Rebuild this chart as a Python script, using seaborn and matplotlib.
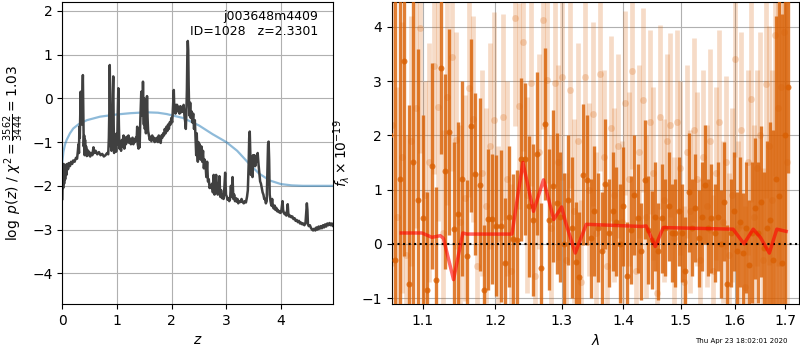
import matplotlib
matplotlib.use("Agg")
import matplotlib.pyplot as plt
from matplotlib.ticker import NullLocator, FixedLocator, FixedFormatter
import seaborn as sns

# ---- redshift probability ----
z_grid = [0.000, 0.008, 0.016, 0.024, 0.033, 0.042, 0.052, 0.062, 0.075, 0.090,
          0.105, 0.120, 0.140, 0.160, 0.180, 0.200, 0.225, 0.250, 0.270, 0.285,
          0.295, 0.305, 0.312, 0.320, 0.328, 0.336, 0.344, 0.352, 0.360, 0.368,
          0.376, 0.384, 0.392, 0.400, 0.408, 0.416, 0.424, 0.435, 0.448, 0.460,
          0.475, 0.490, 0.510, 0.530, 0.550, 0.570, 0.590, 0.610, 0.640, 0.670,
          0.700, 0.730, 0.760, 0.790, 0.820, 0.840, 0.852, 0.860, 0.868, 0.876,
          0.884, 0.892, 0.900, 0.908, 0.916, 0.924, 0.932, 0.940, 0.948, 0.956,
          0.965, 0.975, 0.985, 0.995, 1.005, 1.015, 1.025, 1.035, 1.045, 1.060,
          1.075, 1.090, 1.105, 1.120, 1.135, 1.150, 1.165, 1.180, 1.195, 1.210,
          1.225, 1.240, 1.255, 1.270, 1.285, 1.300, 1.315, 1.330, 1.345, 1.360,
          1.370, 1.380, 1.395, 1.405, 1.415, 1.425, 1.435, 1.445, 1.452, 1.460,
          1.468, 1.476, 1.484, 1.492, 1.500, 1.510, 1.520, 1.530, 1.540, 1.550,
          1.560, 1.570, 1.585, 1.600, 1.615, 1.630, 1.645, 1.660, 1.675, 1.690,
          1.705, 1.720, 1.735, 1.750, 1.765, 1.780, 1.800, 1.815, 1.830, 1.845,
          1.860, 1.875, 1.890, 1.905, 1.920, 1.935, 1.950, 1.965, 1.980, 1.995,
          2.010, 2.020, 2.030, 2.040, 2.050, 2.060, 2.070, 2.080, 2.090, 2.100,
          2.115, 2.130, 2.145, 2.160, 2.175, 2.190, 2.205, 2.220, 2.235, 2.250,
          2.260, 2.270, 2.280, 2.288, 2.296, 2.304, 2.312, 2.320, 2.330, 2.340,
          2.350, 2.365, 2.380, 2.395, 2.410, 2.425, 2.440, 2.450, 2.460, 2.470,
          2.480, 2.490, 2.500, 2.515, 2.530, 2.545, 2.560, 2.575, 2.590, 2.605,
          2.620, 2.635, 2.650, 2.665, 2.680, 2.695, 2.710, 2.725, 2.740, 2.755,
          2.770, 2.785, 2.800, 2.815, 2.830, 2.845, 2.860, 2.875, 2.890, 2.905,
          2.920, 2.935, 2.950, 2.965, 2.980, 2.995, 3.010, 3.025, 3.040, 3.055,
          3.070, 3.085, 3.100, 3.115, 3.130, 3.145, 3.160, 3.175, 3.190, 3.205,
          3.220, 3.240, 3.260, 3.280, 3.300, 3.320, 3.340, 3.360, 3.380, 3.395,
          3.410, 3.420, 3.430, 3.440, 3.450, 3.460, 3.470, 3.480, 3.490, 3.500,
          3.515, 3.530, 3.545, 3.560, 3.575, 3.590, 3.605, 3.620, 3.635, 3.650,
          3.665, 3.680, 3.695, 3.710, 3.725, 3.740, 3.755, 3.765, 3.775, 3.785,
          3.795, 3.810, 3.825, 3.840, 3.855, 3.870, 3.885, 3.900, 3.915, 3.930,
          3.945, 3.960, 3.975, 3.990, 4.005, 4.020, 4.030, 4.040, 4.055, 4.070,
          4.085, 4.100, 4.115, 4.125, 4.135, 4.150, 4.170, 4.190, 4.210, 4.230,
          4.250, 4.270, 4.290, 4.310, 4.330, 4.350, 4.370, 4.390, 4.410, 4.430,
          4.450, 4.465, 4.475, 4.485, 4.495, 4.510, 4.530, 4.550, 4.570, 4.590,
          4.610, 4.630, 4.650, 4.670, 4.690, 4.710, 4.730, 4.750, 4.770, 4.790,
          4.810, 4.830, 4.850, 4.870, 4.890, 4.910, 4.930, 4.950, 4.960]
log_pz = [-2.30, -1.55, -2.05, -1.50, -1.95, -1.55, -1.85, -1.52, -1.75, -1.50,
          -1.62, -1.48, -1.55, -1.45, -1.50, -1.42, -1.45, -1.36, -1.38, -1.20,
          -1.05, -1.25, -0.65, -0.90, -0.40, 0.15, -0.55, 0.05, -0.60, 0.10,
          0.53, -0.30, -1.10, -0.85, -1.30, -0.95, -1.25, -1.10, -1.32, -1.18,
          -1.30, -1.22, -1.33, -1.25, -1.30, -1.12, -1.25, -1.20, -1.28, -1.23,
          -1.30, -1.27, -1.33, -1.30, -1.25, -1.28, -0.90, -0.30, 0.76, -0.20,
          -1.10, -0.50, -1.20, -0.40, -0.70, 0.10, 0.50, -0.60, -1.25, -0.95,
          -1.20, -0.90, -1.22, -0.80, -1.05, -0.30, 0.23, -0.60, -1.15, -1.05,
          -1.20, -0.95, -1.10, -0.85, -1.15, -0.90, -1.05, -0.88, -1.00, -0.85,
          -1.02, -0.92, -1.05, -0.98, -0.90, -1.05, -0.95, -1.00, -0.90, -0.95,
          -0.65, -1.05, -1.15, -0.90, -1.12, -0.60, -0.20, 0.15, -0.40, 0.05,
          -0.30, 0.38, -0.20, -0.60, 0.00, -0.70, -0.35, -0.80, -0.50, 0.05,
          -0.45, -0.75, -0.85, -0.95, -0.88, -0.98, -0.85, -0.95, -0.90, -1.00,
          -0.92, -0.98, -0.90, -1.00, -0.85, -0.95, -1.02, -0.85, -0.90, -0.80,
          -0.85, -0.70, -0.80, -0.65, -0.75, -0.60, -0.70, -0.55, -0.60, -0.45,
          -0.55, -0.35, -0.10, 0.19, -0.30, -0.20, -0.35, -0.15, -0.25, -0.15,
          -0.30, -0.20, -0.35, -0.18, -0.32, -0.20, -0.30, -0.15, -0.40, -0.55,
          -0.70, -0.35, 0.20, 1.00, 1.31, 1.10, 0.30, -0.20, -0.40, -0.10,
          -0.45, -0.30, -0.55, -0.35, -0.70, -0.50, -0.95, -1.30, -0.80, -1.20,
          -1.45, -1.00, -1.35, -1.05, -1.40, -1.10, -1.45, -1.20, -1.60, -1.40,
          -1.50, -1.80, -1.45, -1.90, -1.85, -2.05, -2.00, -2.05, -1.95, -2.15,
          -1.75, -2.20, -2.05, -1.75, -2.15, -2.20, -2.05, -1.78, -2.25, -2.10,
          -2.28, -2.20, -2.30, -2.05, -1.70, -2.20, -2.25, -2.32, -2.28, -2.35,
          -2.30, -2.00, -2.25, -1.80, -2.30, -2.20, -2.35, -2.28, -2.36, -2.30,
          -2.40, -2.35, -2.37, -2.30, -2.37, -2.40, -2.35, -2.38, -2.25, -2.10,
          -1.50, -0.90, -0.76, -1.30, -1.75, -1.60, -1.35, -1.80, -1.30, -1.55,
          -1.30, -1.55, -1.35, -1.45, -1.25, -1.50, -1.70, -1.90, -1.95, -2.05,
          -2.15, -2.20, -2.30, -2.30, -2.40, -2.35, -1.60, -1.05, -0.99, -1.40,
          -2.20, -2.35, -2.45, -2.30, -2.48, -2.52, -2.45, -2.55, -2.50, -2.58,
          -2.55, -2.60, -2.58, -2.62, -2.60, -2.45, -2.35, -2.55, -2.62, -2.65,
          -2.62, -2.68, -2.55, -2.42, -2.62, -2.70, -2.68, -2.72, -2.70, -2.76,
          -2.74, -2.80, -2.78, -2.83, -2.80, -2.86, -2.84, -2.88, -2.86, -2.90,
          -2.85, -2.60, -2.40, -2.55, -2.88, -2.92, -2.90, -2.96, -3.00, -3.02,
          -2.98, -3.02, -2.95, -3.00, -2.93, -2.98, -2.92, -2.97, -2.90, -2.95,
          -2.88, -2.93, -2.86, -2.90, -2.85, -2.90, -2.86, -2.92, -2.88]

z_prior = [0.00, 0.02, 0.05, 0.08, 0.14, 0.20, 0.30, 0.45, 0.69, 0.99, 1.25,
           1.54, 1.75, 1.91, 2.21, 2.50, 2.75, 3.00, 3.20, 3.40, 3.60, 3.80,
           4.00, 4.20, 4.40, 4.96]
log_prior = [-1.45, -1.22, -1.05, -0.95, -0.80, -0.69, -0.59, -0.50, -0.42,
             -0.37, -0.34, -0.32, -0.33, -0.36, -0.45, -0.62, -0.82, -1.00,
             -1.20, -1.47, -1.72, -1.88, -1.96, -1.99, -2.00, -2.00]

# ---- spectrum: first beam ----
wave_a = [1.058, 1.064, 1.070, 1.076, 1.082, 1.088, 1.094, 1.100, 1.106, 1.112,
          1.118, 1.124, 1.130, 1.136, 1.142, 1.148, 1.154, 1.160, 1.166, 1.172,
          1.178, 1.184, 1.190, 1.196, 1.202, 1.208, 1.214, 1.220, 1.226, 1.232,
          1.238, 1.244, 1.250, 1.256, 1.262, 1.268, 1.274, 1.280, 1.286, 1.292,
          1.298, 1.304, 1.310, 1.316, 1.322, 1.328, 1.334, 1.340, 1.346, 1.352,
          1.358, 1.364, 1.370, 1.376, 1.382, 1.388, 1.394, 1.400, 1.406, 1.412,
          1.418, 1.424, 1.430, 1.436, 1.442, 1.448, 1.454, 1.460, 1.466, 1.472,
          1.478, 1.484, 1.490, 1.496, 1.502, 1.508, 1.514, 1.520, 1.526, 1.532,
          1.538, 1.544, 1.550, 1.556, 1.562, 1.568, 1.574, 1.580, 1.586, 1.592,
          1.598, 1.604, 1.610, 1.616, 1.622, 1.628, 1.634, 1.640, 1.646, 1.652,
          1.658, 1.664, 1.670, 1.676, 1.682, 1.688, 1.694, 1.700, 1.706]
flux_a = [2.0, -0.3, 1.2, 3.37, -0.74, 1.5, 0.8, 0.47, -0.85, 1.43,
          -0.66, 3.25, 1.34, 2.06, 0.27, 0.55, 1.2, -0.22, 2.18, 1.29,
          1.09, -0.86, 0.45, 0.45, 0.33, 0.33, -0.36, 0.5, 0.09, 0.07,
          1.56, 1.56, 0.69, 0.44, 1.66, -0.45, 2.21, 0.44, 1.06, 0.75,
          0.5, 0.0, 0.81, 0.3, -0.33, -0.62, 1.27, 1.18, 0.1, 0.6,
          0.3, -0.14, 1.1, 0.2, 0.6, 0.41, 0.0, 0.69, -0.59, 0.26,
          0.9, 0.47, -0.14, 1.18, 0.26, 0.07, 0.5, -0.14, 0.47, 0.3,
          0.69, 0.2, 0.2, 0.6, 0.2, -0.51, 0.95, 0.3, 0.66, 0.1,
          0.5, 1.09, 0.3, 0.47, 0.2, 0.5, 0.0, 0.78, -0.75, 0.2,
          0.6, -0.14, 0.4, -0.17, 0.3, -0.39, 0.2, 0.66, 0.2, 0.78,
          -0.08, 0.3, 0.44, -0.3, 1.2, 0.88, -0.36, 2.0, 2.9]
err_a = [4.5, 4.8, 4.2, 3.6, 3.3, 3.6, 2.8, 1.9, 1.8, 1.9,
         1.7, 1.6, 1.8, 1.9, 1.6, 1.7, 1.8, 1.4, 1.6, 1.5,
         1.6, 1.2, 1.3, 1.2, 1.3, 1.4, 1.2, 1.3, 1.2, 1.3,
         1.5, 1.4, 1.3, 1.4, 1.5, 1.2, 1.4, 1.3, 1.4, 1.3,
         1.2, 1.3, 1.2, 1.3, 1.1, 1.2, 1.3, 1.2, 1.1, 1.2,
         1.0, 1.1, 1.2, 1.0, 1.1, 1.0, 1.1, 1.1, 1.0, 1.0,
         1.1, 1.0, 0.9, 1.1, 1.0, 0.9, 1.0, 0.9, 1.0, 0.9,
         1.0, 0.9, 1.0, 1.0, 0.9, 1.0, 1.1, 0.9, 1.0, 0.9,
         1.0, 1.1, 0.9, 1.0, 0.9, 1.0, 1.0, 1.1, 1.1, 1.0,
         1.1, 1.1, 1.2, 1.1, 1.2, 1.2, 1.3, 1.3, 1.3, 1.4,
         1.4, 1.6, 1.8, 2.4, 3.0, 3.8, 4.6, 4.8, 1.6]

# ---- spectrum: second beam ----
wave_b = [1.061, 1.067, 1.073, 1.079, 1.085, 1.091, 1.097, 1.103, 1.109, 1.115,
          1.121, 1.127, 1.133, 1.139, 1.145, 1.151, 1.157, 1.163, 1.169, 1.175,
          1.181, 1.187, 1.193, 1.199, 1.205, 1.211, 1.217, 1.223, 1.229, 1.235,
          1.241, 1.247, 1.253, 1.259, 1.265, 1.271, 1.277, 1.283, 1.289, 1.295,
          1.301, 1.307, 1.313, 1.319, 1.325, 1.331, 1.337, 1.343, 1.349, 1.355,
          1.361, 1.367, 1.373, 1.379, 1.385, 1.391, 1.397, 1.403, 1.409, 1.415,
          1.421, 1.427, 1.433, 1.439, 1.445, 1.451, 1.457, 1.463, 1.469, 1.475,
          1.481, 1.487, 1.493, 1.499, 1.505, 1.511, 1.517, 1.523, 1.529, 1.535,
          1.541, 1.547, 1.553, 1.559, 1.565, 1.571, 1.577, 1.583, 1.589, 1.595,
          1.601, 1.607, 1.613, 1.619, 1.625, 1.631, 1.637, 1.643, 1.649, 1.655,
          1.661, 1.667, 1.673, 1.679, 1.685, 1.691, 1.697, 1.703]
flux_b = [2.2, 0.5, 1.6, -0.2, 1.9, 2.5, 3.98, 0.9, 1.5, 3.28,
          2.53, 0.2, 2.71, 3.45, 1.91, 0.4, 0.84, 2.87, 2.31, -0.4,
          1.3, 0.7, 1.8, 2.28, 0.1, 2.34, 1.2, -0.5, 4.17, 2.54,
          3.72, 0.9, 2.97, -0.6, 1.7, 4.12, 3.02, 0.3, 2.96, 1.5,
          3.07, -0.3, 2.83, 0.6, 1.9, -0.7, 3.08, 1.0, 2.4, 0.2,
          3.14, 1.6, -0.4, 2.13, 0.9, 1.8, 0.4, 2.6, 1.2, 3.18,
          -0.5, 1.7, 2.65, 0.5, 2.25, 1.3, -0.9, 2.34, 0.8, 1.9,
          2.19, 0.1, 2.25, 1.4, -0.7, 1.7, 0.6, 2.1, 1.2, -0.3,
          1.6, 0.7, 1.9, -0.5, 1.3, 2.25, 0.4, 1.5, -0.2, 0.9,
          3.40, 0.3, 2.1, -0.8, 1.5, 2.68, 0.5, 1.4, 2.0, -0.3,
          2.94, 1.81, 0.8, 3.86, 2.5, 2.9, 3.9, 1.5]
err_b = [2.6, 2.4, 2.5, 2.2, 2.3, 2.2, 2.3, 2.1, 2.2, 2.0,
         2.1, 1.9, 2.0, 2.1, 2.0, 1.8, 1.9, 2.0, 1.9, 1.7,
         1.9, 1.8, 1.9, 2.0, 1.7, 1.9, 1.8, 1.6, 2.0, 1.9,
         2.0, 1.8, 1.9, 1.6, 1.8, 2.0, 1.9, 1.7, 1.9, 1.8,
         1.9, 1.6, 1.8, 1.7, 1.8, 1.5, 1.8, 1.6, 1.7, 1.5,
         1.8, 1.6, 1.5, 1.7, 1.6, 1.7, 1.5, 1.7, 1.6, 1.8,
         1.5, 1.6, 1.7, 1.5, 1.7, 1.6, 1.4, 1.7, 1.5, 1.6,
         1.7, 1.5, 1.7, 1.6, 1.4, 1.6, 1.5, 1.7, 1.6, 1.5,
         1.6, 1.5, 1.7, 1.4, 1.6, 1.7, 1.5, 1.6, 1.5, 1.6,
         1.8, 1.6, 1.8, 1.5, 1.7, 1.9, 1.7, 1.8, 1.9, 1.7,
         2.1, 2.2, 2.4, 2.6, 2.9, 3.3, 3.6, 3.8]

# ---- best-fit template ----
model_wave = [1.0722, 1.0992, 1.1124, 1.1236, 1.1280, 1.1417, 1.1545, 1.1600,
              1.2246, 1.2408, 1.2567, 1.2719, 1.2877, 1.2999, 1.3060, 1.3213,
              1.3389, 1.4314, 1.4386, 1.4545, 1.4685, 1.5970, 1.6180, 1.6360,
              1.6500, 1.6680, 1.6830, 1.7020]
model_flux = [0.20, 0.20, 0.12, 0.15, 0.10, -0.66, 0.20, 0.18,
              0.18, 1.50, 0.60, 1.18, 0.45, 0.68, 0.40, -0.17,
              0.36, 0.32, 0.33, -0.05, 0.30, 0.27, 0.00, 0.27,
              0.12, -0.17, 0.27, 0.23]

wave_ticks = [1.1, 1.2, 1.3, 1.4, 1.5, 1.6, 1.7]
field_name = "j003648m4409"
obj_id = 1028
z_best = 2.3301
chi2, dof = 3562, 3444
stamp = "Thu Apr 23 18:02:01 2020"

spec_color = "#d95f02"
grid_color = "#b0b0b0"

fig = plt.figure(figsize=(8, 3.5), dpi=100)
ax_z = fig.add_axes([0.0779, 0.1314, 0.3388, 0.8629])
ax_s = fig.add_axes([0.4896, 0.1314, 0.5095, 0.8629])

# left: p(z)
sns.lineplot(x=z_prior, y=log_prior, ax=ax_z, color="tab:blue", alpha=0.5,
             linewidth=1.6, estimator=None, sort=False)
sns.lineplot(x=z_grid, y=log_pz, ax=ax_z, color="0.25", linewidth=1.8,
             estimator=None, sort=False)
ax_z.set_xlim(0, 4.96)
ax_z.set_ylim(-4.70, 2.20)
ax_z.set_xticks([0, 1, 2, 3, 4])
ax_z.set_yticks([-4, -3, -2, -1, 0, 1, 2])
ax_z.set_xlabel(r"$z$", fontsize=10)
ax_z.set_ylabel(r"$\log\ p(z)$" + " / " +
                r"$\chi^2=\frac{%d}{%d}=%.2f$" % (chi2, dof, chi2 / dof),
                fontsize=10)
ax_z.yaxis.set_label_coords(-0.135, 0.5)
ax_z.text(0.945, 0.972, "%s\nID=%d   z=%.4f" % (field_name, obj_id, z_best),
          transform=ax_z.transAxes, ha="right", va="top",
          multialignment="right", fontsize=9)

# right: spectrum
ax_s.errorbar(wave_b, flux_b, yerr=err_b, fmt="o", color=spec_color,
              alpha=0.22, ms=5, elinewidth=3.4, capsize=0, mew=0, zorder=2)
ax_s.errorbar(wave_a, flux_a, yerr=err_a, fmt="o", color=spec_color,
              alpha=0.8, ms=4.3, elinewidth=2.4, capsize=0, mew=0, zorder=3)
ax_s.axhline(0, color="k", linestyle=":", linewidth=1.5, zorder=4)
sns.lineplot(x=model_wave, y=model_flux, ax=ax_s, color="red", alpha=0.6,
             linewidth=2.5, estimator=None, sort=False, zorder=5)
ax_s.set_xscale("log")
ax_s.set_xlim(1.060, 1.729)
ax_s.set_ylim(-1.11, 4.46)
ax_s.xaxis.set_major_locator(FixedLocator(wave_ticks))
ax_s.xaxis.set_major_formatter(FixedFormatter(["%.1f" % t for t in wave_ticks]))
ax_s.xaxis.set_minor_locator(NullLocator())
ax_s.set_yticks([-1, 0, 1, 2, 3, 4])
ax_s.set_xlabel(r"$\lambda$", fontsize=10)
ax_s.set_ylabel(r"$f_\lambda\times10^{-19}$", fontsize=10)
ax_s.yaxis.set_label_coords(-0.098, 0.5)

for ax in (ax_z, ax_s):
    ax.grid(True, color=grid_color, linewidth=0.8)
    ax.set_axisbelow(True)
    ax.tick_params(labelsize=10)
    for sp in ax.spines.values():
        sp.set_color("k")
        sp.set_linewidth(0.8)

fig.text(0.984, 0.018, stamp, ha="right", va="bottom", fontsize=5)

fig.savefig("out.png", dpi=100)
